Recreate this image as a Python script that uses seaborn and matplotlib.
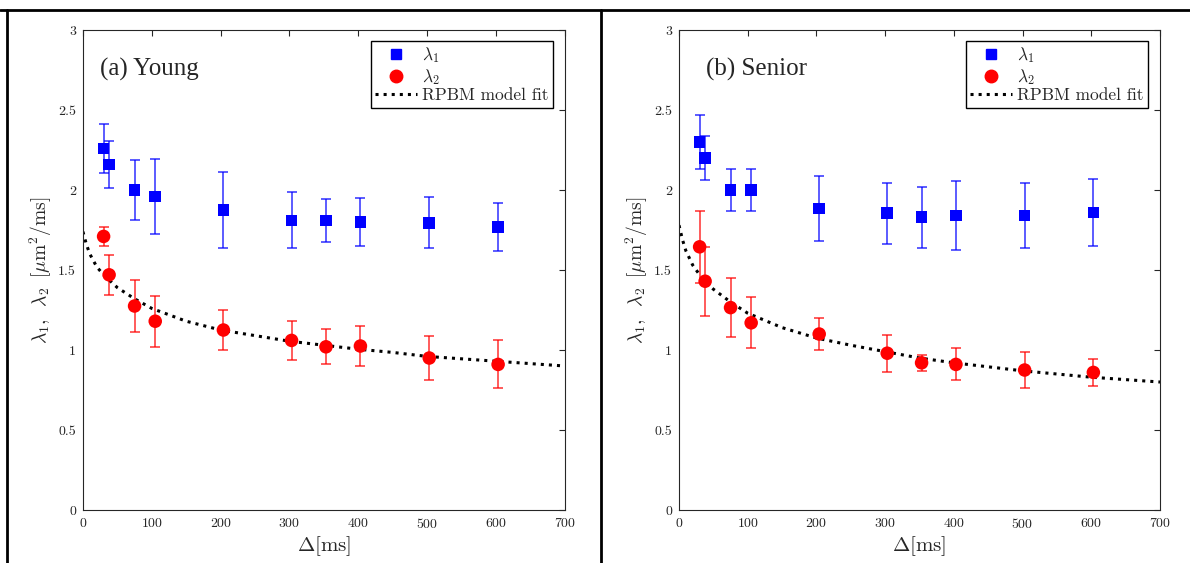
import numpy as np
import matplotlib
matplotlib.use('Agg')
import matplotlib.pyplot as plt
import seaborn as sns
from matplotlib.lines import Line2D

# diffusion times (ms)
delta = [30, 38, 75, 105, 204, 303, 353, 403, 503, 603]

# (a) Young
young_l1 = [2.26, 2.16, 2.00, 1.96, 1.875, 1.81, 1.81, 1.80, 1.795, 1.77]
young_l1_err = [0.155, 0.145, 0.185, 0.235, 0.24, 0.175, 0.135, 0.15, 0.16, 0.15]
young_l2 = [1.71, 1.47, 1.275, 1.18, 1.125, 1.06, 1.02, 1.025, 0.95, 0.91]
young_l2_err = [0.06, 0.125, 0.16, 0.16, 0.125, 0.12, 0.11, 0.125, 0.135, 0.15]

# (b) Senior
senior_l1 = [2.30, 2.20, 2.00, 2.00, 1.885, 1.855, 1.83, 1.84, 1.84, 1.86]
senior_l1_err = [0.17, 0.14, 0.13, 0.13, 0.205, 0.19, 0.19, 0.215, 0.205, 0.21]
senior_l2 = [1.645, 1.43, 1.265, 1.17, 1.10, 0.98, 0.92, 0.91, 0.875, 0.86]
senior_l2_err = [0.225, 0.215, 0.185, 0.16, 0.10, 0.115, 0.05, 0.10, 0.11, 0.085]

# RPBM fit curves
fit_t = [0, 5, 10, 20, 30, 40, 50, 75, 100, 150, 200, 250, 300, 350, 400,
         450, 500, 550, 600, 650, 700]
young_fit = [1.74, 1.66, 1.60, 1.52, 1.47, 1.43, 1.39, 1.32, 1.26, 1.18, 1.125,
             1.09, 1.055, 1.03, 1.005, 0.985, 0.96, 0.945, 0.93, 0.915, 0.90]
senior_fit = [1.78, 1.69, 1.62, 1.53, 1.47, 1.42, 1.38, 1.30, 1.23, 1.14, 1.075,
              1.03, 0.99, 0.95, 0.92, 0.895, 0.87, 0.85, 0.83, 0.815, 0.80]

panels = [
    ('(a) Young', young_l1, young_l1_err, young_l2, young_l2_err, young_fit),
    ('(b) Senior', senior_l1, senior_l1_err, senior_l2, senior_l2_err, senior_fit),
]

sns.set_style('white')
plt.rcParams['font.family'] = ['cmr10', 'DejaVu Serif']
plt.rcParams['mathtext.fontset'] = 'cm'
plt.rcParams['axes.unicode_minus'] = False
plt.rcParams['axes.formatter.use_mathtext'] = True

fig = plt.figure(figsize=(11.9, 5.63), dpi=100)
positions = [[0.0697, 0.0941, 0.405, 0.8526], [0.5706, 0.0941, 0.4042, 0.8526]]
title_x = [0.035, 0.056]

blue = '#0000ff'
red = '#ff0000'

for pos, tx, (title, l1, l1e, l2, l2e, fit) in zip(positions, title_x, panels):
    ax = fig.add_axes(pos)
    ax.errorbar(delta, l1, yerr=l1e, fmt='none', ecolor=blue, elinewidth=1.2,
                capsize=3.5, capthick=1.2, alpha=0.75)
    ax.errorbar(delta, l2, yerr=l2e, fmt='none', ecolor=red, elinewidth=1.2,
                capsize=3.5, capthick=1.2, alpha=0.75)
    sns.lineplot(x=fit_t, y=fit, ax=ax, color='black', linestyle=':', linewidth=2.2)
    sns.scatterplot(x=delta, y=l1, ax=ax, marker='s', color=blue, s=70,
                    edgecolor='none', zorder=5)
    sns.scatterplot(x=delta, y=l2, ax=ax, marker='o', color=red, s=95,
                    edgecolor='none', zorder=5)

    ax.set_xlim(0, 700)
    ax.set_ylim(0, 3)
    ax.set_xticks(range(0, 701, 100))
    ax.set_yticks([0, 0.5, 1, 1.5, 2, 2.5, 3])
    ax.set_yticklabels(['0', '0.5', '1', '1.5', '2', '2.5', '3'])
    ax.tick_params(direction='in', top=True, right=True, length=4, width=0.8,
                   labelsize=10, colors='#262626', pad=5)
    for sp in ax.spines.values():
        sp.set_color('#262626')
        sp.set_linewidth(0.8)

    ax.set_xlabel(r'$\Delta[\mathrm{ms}]$', fontsize=15, labelpad=2)
    ax.set_ylabel(r'$\lambda_1,\;\;\lambda_2\;\;[\mu\mathrm{m}^2/\mathrm{ms}]$',
                  fontsize=14, labelpad=3)
    ax.text(tx, 0.917, title, transform=ax.transAxes, fontsize=18,
            family='Liberation Serif', va='center', ha='left')

    handles = [
        Line2D([], [], marker='s', color=blue, linestyle='none', markersize=7),
        Line2D([], [], marker='o', color=red, linestyle='none', markersize=9),
        Line2D([], [], color='black', linestyle=':', linewidth=2.2),
    ]
    leg = ax.legend(handles, [r'$\lambda_1$', r'$\lambda_2$', 'RPBM model fit'],
                    loc='upper right', bbox_to_anchor=(0.975, 0.977),
                    borderaxespad=0, fancybox=False, edgecolor='black',
                    framealpha=1, fontsize=12.5, handlelength=2.4,
                    handletextpad=0.3, borderpad=0.25, labelspacing=0.08)
    leg.get_frame().set_linewidth(1.0)

# outer frame lines of the figure
for xs, ys in [([0.0, 1.0], [0.983, 0.983]), ([0.006, 0.006], [0.0, 0.983]),
               ([0.505, 0.505], [0.0, 0.983])]:
    fig.add_artist(Line2D(xs, ys, color='black', linewidth=2,
                          transform=fig.transFigure))

fig.savefig('out.png', dpi=100)
